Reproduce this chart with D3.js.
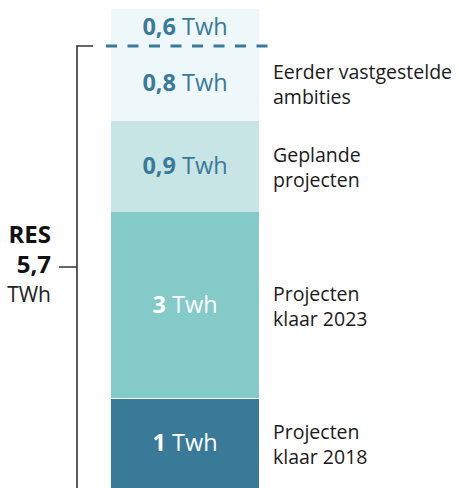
<!DOCTYPE html>
<html lang="nl">
<head>
    <meta charset="UTF-8">
    <title>RES 5,7 TWh</title>
    <script src="https://cdnjs.cloudflare.com/ajax/libs/d3/7.8.5/d3.min.js"></script>
    <style>
        body { margin: 0; background: #fff; }
        svg { display: block; font-family: "Open Sans", sans-serif; }
    </style>
</head>
<body>
<svg width="459" height="488"></svg>

<script>
    // data, bottom to top
    const values = [1, 3, 0.9, 0.8, 0.6]
    const valueLabels = ["1", "3", "0,9", "0,8", "0,6"]
    const categories = [
        ["Projecten", "klaar 2018"],
        ["Projecten", "klaar 2023"],
        ["Geplande", "projecten"],
        ["Eerder vastgestelde", "ambities"],
        []
    ]
    const colors = ["#3a7a99", "#83cac8", "#c6e5e4", "#eef7f9", "#eef7f9"]
    const labelColors = ["#fff", "#fff", "#3a7a99", "#3a7a99", "#3a7a99"]
    const total = 5.7
    const totalLabel = "5,7"

    const svg = d3.select("svg")

    // stack offsets
    let cum = [0]
    values.forEach(v => cum.push(cum[cum.length - 1] + v))
    const stack = values.map((v, i) => ({ v, i, y0: cum[i], y1: cum[i + 1] }))

    // the bar is not drawn to scale in the original, so the scale is piecewise
    const y = d3.scaleLinear()
        .domain(cum)
        .range([488, 399, 212, 121, 46, 9])

    const x0 = 111, x1 = 259

    svg.append("g")
        .selectAll("rect")
        .data(stack)
        .enter()
        .append("rect")
        .attr("x", x0)
        .attr("width", x1 - x0)
        .attr("y", d => y(d.y1))
        .attr("height", d => y(d.y0) - y(d.y1) - (d.i == 1 ? 1 : 0))
        .attr("fill", d => colors[d.i])

    // value labels
    const vl = svg.append("g")
        .selectAll("text")
        .data(stack)
        .enter()
        .append("text")
        .attr("x", (x0 + x1) / 2)
        .attr("y", d => (y(d.y0) + y(d.y1)) / 2 + 7)
        .attr("text-anchor", "middle")
        .attr("font-size", 23.5)
        .attr("fill", d => labelColors[d.i])
    vl.append("tspan").attr("font-weight", 700).text(d => valueLabels[d.i])
    vl.append("tspan").text(" Twh")

    // category labels on the right
    svg.append("g")
        .selectAll("text")
        .data(stack.filter(d => categories[d.i].length))
        .enter()
        .append("text")
        .attr("x", 273)
        .attr("y", d => (y(d.y0) + y(d.y1)) / 2 - 5)
        .attr("font-size", 19.5)
        .attr("fill", "#1a1a1a")
        .selectAll("tspan")
        .data(d => categories[d.i])
        .enter()
        .append("tspan")
        .attr("x", 273)
        .attr("dy", (d, i) => i == 0 ? 0 : 25)
        .text(d => d)

    // dashed line at the RES total
    svg.append("line")
        .attr("x1", 106).attr("x2", 268)
        .attr("y1", y(total)).attr("y2", y(total))
        .attr("stroke", "#3a7a99")
        .attr("stroke-width", 3)
        .attr("stroke-dasharray", "11,10.5")

    // bracket
    const bx = 77
    const mid = (y(0) + y(total)) / 2
    svg.append("path")
        .attr("d", `M93,${y(total)}H${bx}V${y(0)}M${bx},${mid}H59`)
        .attr("fill", "none")
        .attr("stroke", "#333")
        .attr("stroke-width", 1.6)

    const tl = svg.append("g").attr("text-anchor", "end").attr("fill", "#111")
    tl.append("text").attr("x", 51).attr("y", mid - 24)
        .attr("font-size", 24).attr("font-weight", 700).text("RES")
    tl.append("text").attr("x", 51).attr("y", mid + 6)
        .attr("font-size", 24).attr("font-weight", 700).text(totalLabel)
    tl.append("text").attr("x", 51).attr("y", mid + 35)
        .attr("font-size", 21).attr("fill", "#222").text("TWh")
</script>
</body>
</html>
